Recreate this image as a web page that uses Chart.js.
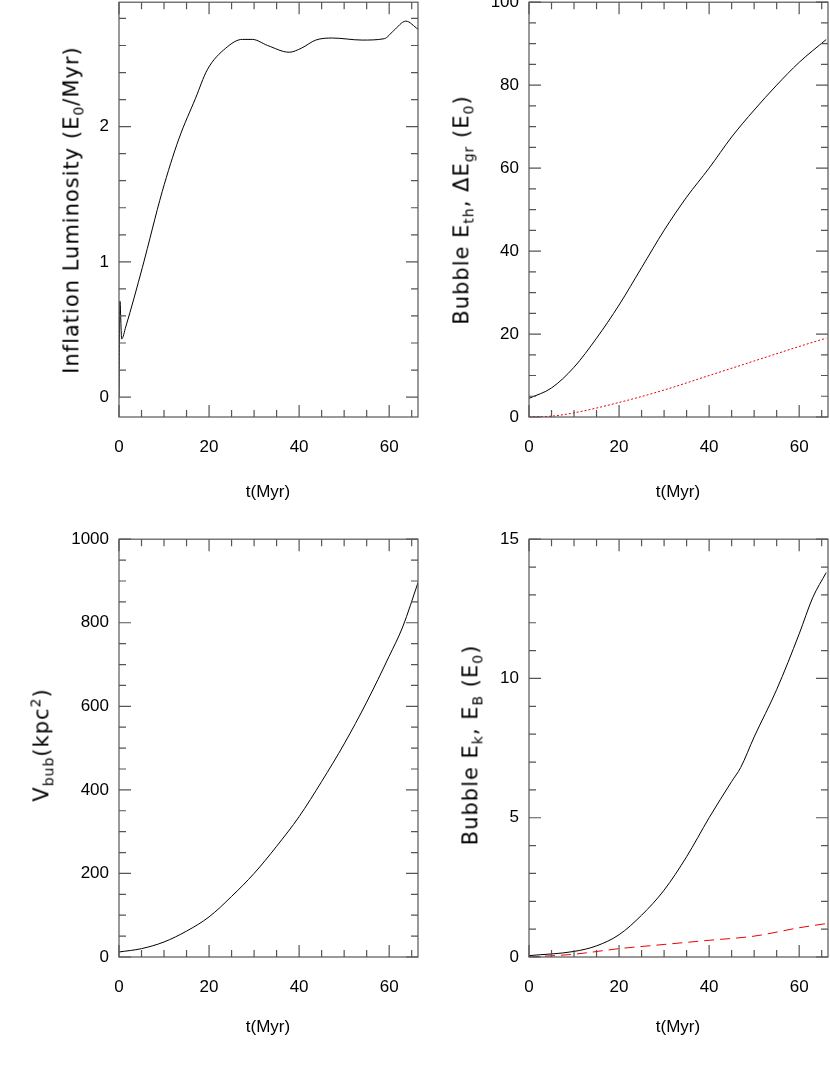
<!DOCTYPE html>
<html><head><meta charset="utf-8">
<script src="https://cdn.jsdelivr.net/npm/chart.js@4"></script>
<style>
body{margin:0;background:#fff;width:830px;height:1092px;position:relative;overflow:hidden;font-family:"Liberation Sans",Arial,sans-serif}
canvas{position:absolute}
.yt{position:absolute;font-family:"DejaVu Sans",sans-serif;font-size:21px;white-space:nowrap;transform:translate(-50%,-50%) rotate(-90deg);letter-spacing:1px}
.yt sub{font-size:14px}.yt sup{font-size:14px}
.xt{position:absolute;font-size:17px;transform:translateX(-50%)}
</style></head><body>
<canvas id="c1"></canvas><canvas id="c2"></canvas><canvas id="c3"></canvas><canvas id="c4"></canvas>
<div class="yt" style="left:73px;top:210px">Inflation Luminosity (E<sub>0</sub>/Myr)</div>
<div class="yt" style="left:463px;top:210px">Bubble E<sub>th</sub>, ΔE<sub>gr</sub> (E<sub>0</sub>)</div>
<div class="yt" style="left:42px;top:745px">V<sub>bub</sub>(kpc<sup>2</sup>)</div>
<div class="yt" style="left:472px;top:745px">Bubble E<sub>k</sub>, E<sub>B</sub> (E<sub>0</sub>)</div>
<div class="xt" style="left:268px;top:482px">t(Myr)</div>
<div class="xt" style="left:678px;top:482px">t(Myr)</div>
<div class="xt" style="left:268px;top:1017px">t(Myr)</div>
<div class="xt" style="left:678px;top:1017px">t(Myr)</div>
<script>
const lumT=[0,0.2,0.6,1.5,5.2,9.6,13.3,17,19.6,23.7,27.4,29.6,33,37.8,40.5,43.7,47.4,54,58.9,61,63.7,66.4];
const lumV=[0,0.71,0.43,0.52,0.96,1.52,1.91,2.21,2.42,2.58,2.645,2.645,2.6,2.55,2.58,2.64,2.655,2.64,2.65,2.71,2.78,2.72];
const ethT=[0,5,10,15,20,25,30,35,40,45,50,55,60,66];
const ethV=[4.5,7,12,19,27,36,45,53,60,67.5,74,80,85.5,91];
const egrT=[0,5,10,20,30,40,50,60,66];
const egrV=[0,0.2,1,3.5,6.5,10,13.5,17,19];
const volT=[0,5,10,15,20,25,30,35,40,45,50,55,60,63,66.4];
const volV=[12,20,36,62,96,145,200,265,336,420,510,610,720,790,896];
const ekT=[0,10,15,20,25,30,35,40,45,47,50,55,60,63,66];
const ekV=[0.05,0.2,0.4,0.8,1.5,2.4,3.6,5.0,6.3,6.8,7.9,9.6,11.6,12.9,13.8];
const ebT=[0,10,20,30,40,50,60,66];
const ebV=[0,0.1,0.3,0.45,0.6,0.75,1.05,1.2];
const xMajor=[0,20,40,60];

function pts(t,v){return t.map((x,i)=>({x:x,y:v[i]}));}
const tickPlugin={id:'tk',afterDraw(ch,a,o){
  const c=ch.ctx,ca=ch.chartArea,xs=ch.scales.x,ys=ch.scales.y;
  c.save();c.strokeStyle='#555';c.lineWidth=1.2;
  c.strokeRect(ca.left,ca.top,ca.right-ca.left,ca.bottom-ca.top);
  c.beginPath();
  for(let v=0;v<=xs.max;v+=5){const p=xs.getPixelForValue(v);const L=(v%20===0)?12:7;
    c.moveTo(p,ca.bottom);c.lineTo(p,ca.bottom-L);c.moveTo(p,ca.top);c.lineTo(p,ca.top+L);}
  for(let v=0;v<=ys.max+1e-9;v+=o.minor){const p=ys.getPixelForValue(v);
    const maj=Math.abs(v/o.major-Math.round(v/o.major))<1e-6;const L=maj?12:7;
    c.moveTo(ca.left,p);c.lineTo(ca.left+L,p);c.moveTo(ca.right,p);c.lineTo(ca.right-L,p);}
  c.stroke();c.restore();}};
const OFF=18;
function make(id,left,areaTop,areaH,ds,ymin,ymax,major,minor){
  const cv=document.getElementById(id);
  const H=areaH+OFF+105;
  cv.width=420;cv.height=H;cv.style.left=left+'px';cv.style.top=(areaTop-OFF)+'px';
  new Chart(cv,{type:'line',data:{datasets:ds.map(d=>({data:d.data,borderColor:d.color,borderWidth:1,borderDash:d.dash||[],pointRadius:0,cubicInterpolationMode:'monotone',fill:false}))},
  options:{responsive:false,animation:false,devicePixelRatio:1,
   layout:{padding:{left:0,right:2,top:0,bottom:0}},
   plugins:{legend:{display:false},tooltip:{enabled:false},tk:{major:major,minor:minor}},
   scales:{x:{type:'linear',min:0,max:66.4,afterFit:s=>{s.height=105},afterBuildTicks:s=>{s.ticks=xMajor.map(v=>({value:v}))},
      grid:{display:false,drawTicks:false},border:{display:false},ticks:{padding:20,color:'#000',font:{size:17,family:'Liberation Sans'}}},
     y:{type:'linear',min:ymin,max:ymax,afterFit:s=>{s.width=119},afterBuildTicks:s=>{const t=[];for(let v=0;v<=ymax+1e-9;v+=major)t.push({value:+v.toFixed(6)});s.ticks=t;},
      grid:{display:false,drawTicks:false},border:{display:false},ticks:{padding:10,color:'#000',font:{size:17,family:'Liberation Sans'},callback:v=>String(v)}}}},
  plugins:[tickPlugin,{id:'fixTop',afterLayout(ch){}}]});
}
make('c1',0,0,417,[{data:pts(lumT,lumV),color:'#000'}],-0.147,2.92,1,0.2);
make('c2',410,0,417,[{data:pts(ethT,ethV),color:'#000'},{data:pts(egrT,egrV),color:'#e00',dash:[2,2]}],0,100,20,5);
make('c3',0,537,420,[{data:pts(volT,volV),color:'#000'}],0,1000,200,50);
make('c4',410,537,420,[{data:pts(ekT,ekV),color:'#000'},{data:pts(ebT,ebV),color:'#e00',dash:[10,6]}],0,15,5,1);
</script></body></html>
